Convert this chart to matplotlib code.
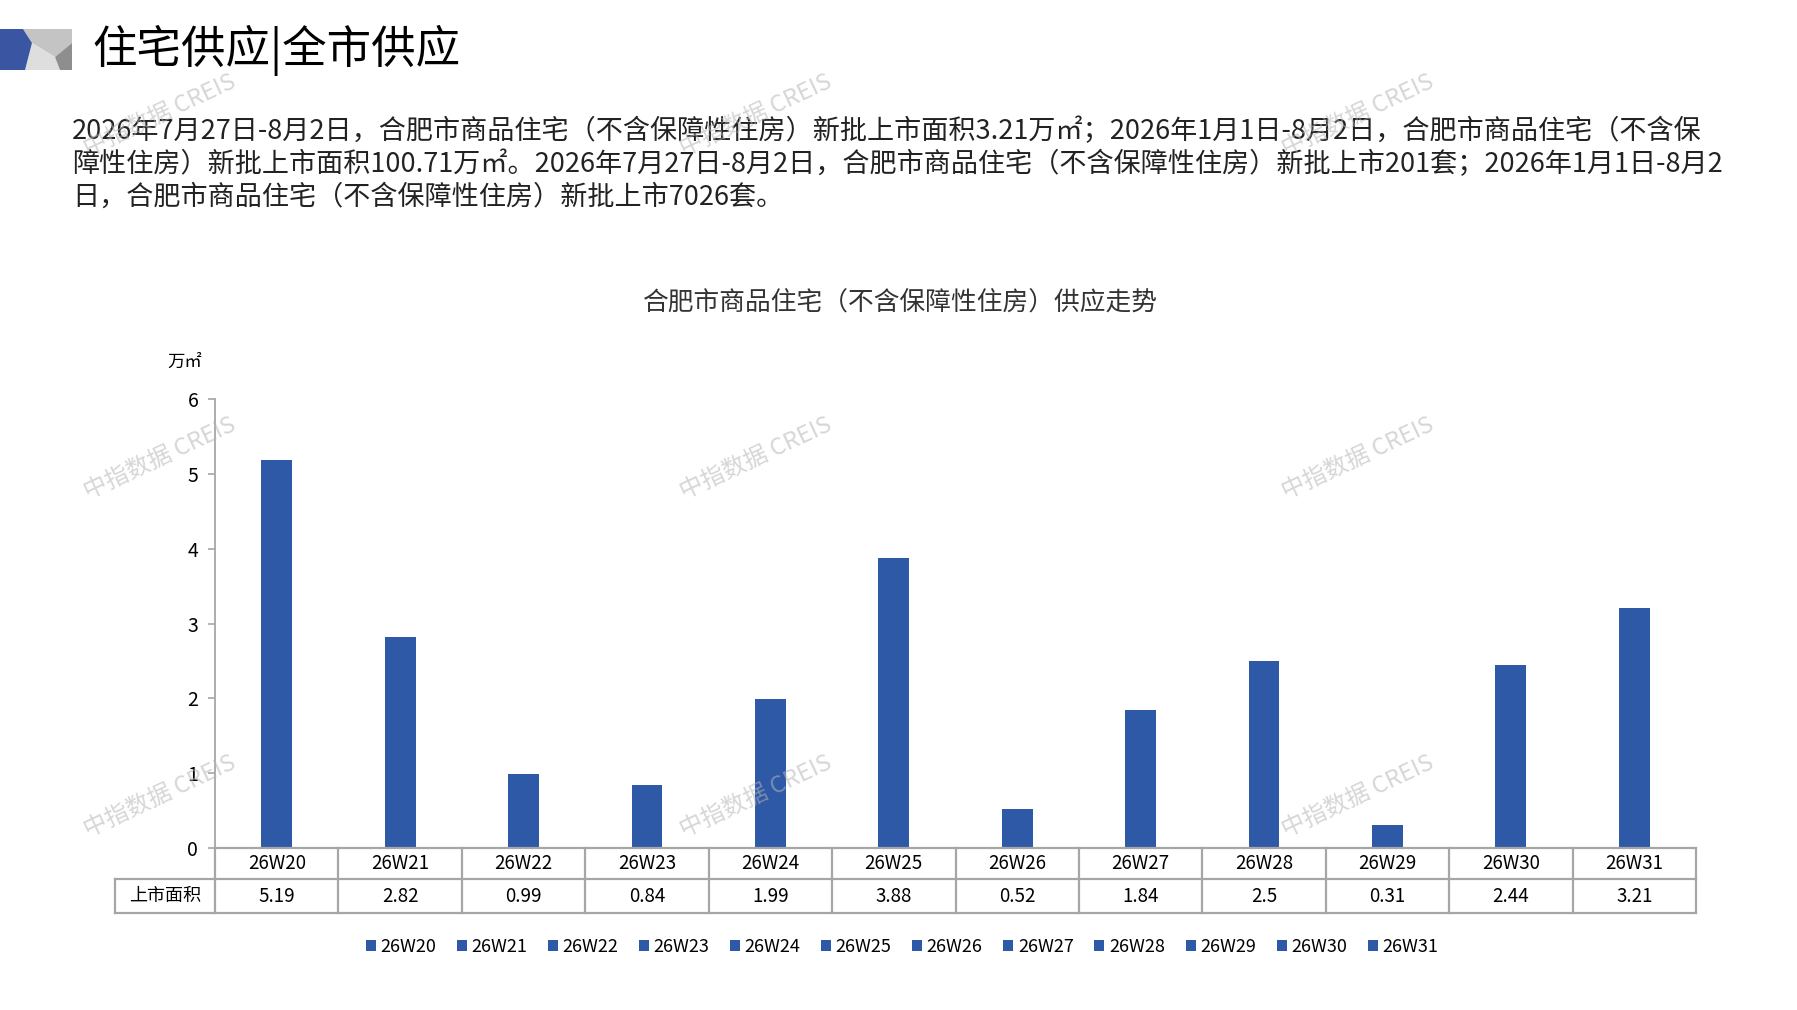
import numpy as np
import matplotlib
matplotlib.use('Agg')
import matplotlib.pyplot as plt
from matplotlib.patches import Polygon

plt.rcParams['font.family'] = ['Noto Sans CJK SC', 'DejaVu Sans']

# 数据
weeks = ['26W20', '26W21', '26W22', '26W23', '26W24', '26W25',
         '26W26', '26W27', '26W28', '26W29', '26W30', '26W31']
area = [5.19, 2.82, 0.99, 0.84, 1.99, 3.88, 0.52, 1.84, 2.5, 0.31, 2.44, 3.21]
yticks = [0, 1, 2, 3, 4, 5, 6]
row_name = '上市面积'
unit = '万㎡'
page_title = '住宅供应|全市供应'
chart_title = '合肥市商品住宅（不含保障性住房）供应走势'
para_lines = [
    '2026年7月27日-8月2日，合肥市商品住宅（不含保障性住房）新批上市面积3.21万㎡；2026年1月1日-8月2日，合肥市商品住宅（不含保',
    '障性住房）新批上市面积100.71万㎡。2026年7月27日-8月2日，合肥市商品住宅（不含保障性住房）新批上市201套；2026年1月1日-8月2',
    '日，合肥市商品住宅（不含保障性住房）新批上市7026套。',
]
watermark = '中指数据 CREIS'

W, H = 1797, 1010
bar_color = '#2E59A7'
line_grey = '#A6A6A6'

fig = plt.figure(figsize=(W / 100, H / 100), dpi=100)

# 背景层，像素坐标
bg = fig.add_axes([0, 0, 1, 1])
bg.set_xlim(0, W)
bg.set_ylim(H, 0)
bg.axis('off')

# 左上角图标
bg.add_patch(Polygon([(23, 29), (72, 29), (72, 43), (55, 57), (32, 43)], color='#C4C4C4', lw=0))
bg.add_patch(Polygon([(32, 43), (55, 57), (60, 70), (25, 70)], color='#DEDEDE', lw=0))
bg.add_patch(Polygon([(72, 43), (72, 70), (60, 70), (55, 57)], color='#8E8E8E', lw=0))
bg.add_patch(Polygon([(0, 29), (23, 29), (32, 43), (25, 70), (0, 70)], color='#3A56A2', lw=0))

bg.text(92, 50, page_title, fontsize=32, va='center', ha='left', color='black')

for i, line in enumerate(para_lines):
    bg.text(72, 131 + i * 33.3, line, fontsize=19.5, va='center', ha='left', color='#222222')

bg.text(900, 304, chart_title, fontsize=18.5, va='center', ha='center', color='#333333')
bg.text(185, 362, unit, fontsize=12.5, va='center', ha='center', color='black')

# 柱状图
ax_left, ax_right, y0_px, y6_px = 215, 1696, 848, 399
ax = fig.add_axes([ax_left / W, 1 - y0_px / H, (ax_right - ax_left) / W, (y0_px - y6_px) / H])
ax.patch.set_alpha(0)
x = np.arange(len(weeks))
bars = ax.bar(x, area, width=0.25, color=bar_color, zorder=2)
ax.set_xlim(-0.5, len(weeks) - 0.5)
ax.set_ylim(yticks[0], yticks[-1])
ax.set_yticks(yticks)
ax.set_xticks([])
ax.tick_params(axis='y', direction='out', length=5, width=1.2, color=line_grey, labelsize=14, pad=7)
for s in ['top', 'right', 'bottom']:
    ax.spines[s].set_visible(False)
ax.spines['left'].set_color(line_grey)
ax.spines['left'].set_linewidth(1.3)

# 数据表
tr = ax.get_xaxis_transform()
plot_h = y0_px - y6_px
r1 = -(879 - y0_px) / plot_h
r2 = -(913 - y0_px) / plot_h
col_w = (ax_right - ax_left) / len(weeks)
cell_left = -0.5 - (ax_left - 115) / col_w
right = len(weeks) - 0.5
kw = dict(transform=tr, clip_on=False, color=line_grey, lw=1.6, zorder=3)
ax.plot([-0.5, right], [0, 0], **kw)
ax.plot([cell_left, right], [r1, r1], **kw)
ax.plot([cell_left, right], [r2, r2], **kw)
ax.plot([cell_left, cell_left], [r1, r2], **kw)
for b in np.arange(len(weeks) + 1) - 0.5:
    ax.plot([b, b], [0, r2], **kw)
for xi, w, v in zip(x, weeks, area):
    ax.text(xi, r1 / 2, w, transform=tr, ha='center', va='center', fontsize=13.5, clip_on=False)
    ax.text(xi, (r1 + r2) / 2, f'{v:g}', transform=tr, ha='center', va='center', fontsize=13.5, clip_on=False)
ax.text((cell_left - 0.5) / 2, (r1 + r2) / 2, row_name, transform=tr, ha='center', va='center',
        fontsize=13, clip_on=False)

# 图例
fig.legend(bars.patches, weeks, loc='center', bbox_to_anchor=(902 / W, 1 - 947 / H), ncol=len(weeks),
           frameon=False, fontsize=13, handlelength=0.55, handleheight=0.55, handletextpad=0.25,
           columnspacing=1.15)

# 水印
for wy in [115, 458, 796]:
    for wx in [160, 756, 1358]:
        fig.text(wx / W, 1 - wy / H, watermark, rotation=25, color='#B5B5B5', alpha=0.55,
                 fontsize=17, ha='center', va='center', zorder=20)

fig.savefig('out.png', dpi=100)
